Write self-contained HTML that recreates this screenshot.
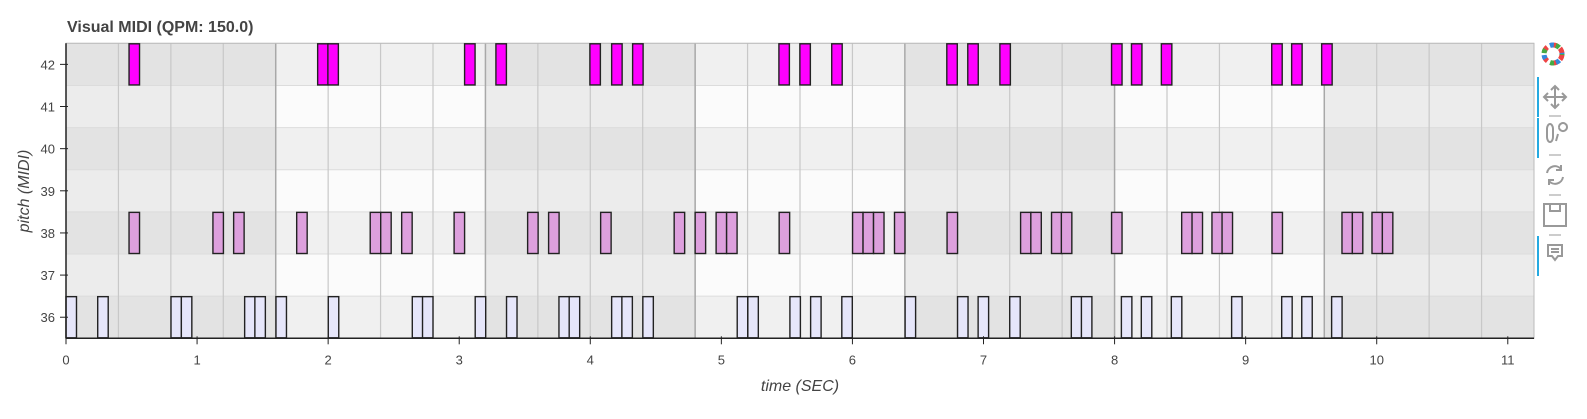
<!DOCTYPE html>
<html><head><meta charset="utf-8"><style>
body{margin:0;background:#fff;width:1587px;height:414px;overflow:hidden;font-family:"Liberation Sans",sans-serif}
</style></head><body>
<svg id="c" width="1587" height="414" xmlns="http://www.w3.org/2000/svg">
<text x="67" y="32" font-size="16" font-weight="bold" fill="#444">Visual MIDI (QPM: 150.0)</text>
<g id="bg"></g><g id="grid"></g><g id="notes"></g><g id="axes"></g>
<text x="800" y="391" font-size="16" font-style="italic" fill="#444" text-anchor="middle">time (SEC)</text>
<text transform="translate(29,191) rotate(-90)" font-size="16" font-style="italic" fill="#444" text-anchor="middle">pitch (MIDI)</text>
<g transform="translate(21,1)">
<g transform="translate(1532,53)">
<circle r="9" fill="none" stroke="#e44" stroke-width="5" stroke-dasharray="6 4"/>
<circle r="9" fill="none" stroke="#4a4" stroke-width="5" stroke-dasharray="4 12" stroke-dashoffset="3"/>
<circle r="9" fill="none" stroke="#38d" stroke-width="5" stroke-dasharray="4 12" stroke-dashoffset="9"/>
</g>
<rect x="1516" y="76" width="2" height="40" fill="#26aae1"/>
<rect x="1516" y="117" width="2" height="40" fill="#26aae1"/>
<rect x="1516" y="235" width="2" height="40" fill="#26aae1"/>
<g fill="none" stroke="#999" stroke-width="2">
<path d="M1534 85v22M1523 96h22M1530 89l4-4 4 4M1530 103l4 4 4-4M1527 92l-4 4 4 4M1541 92l4 4-4 4"/>
<line x1="1528" y1="115" x2="1540" y2="115" stroke-width="1"/>
<path d="M1526 128a3 5 0 0 1 6 0v8a3 5 0 0 1-6 0z M1538 126a4 4 0 1 1 0 .1M1537 133l-2 7"/>
<line x1="1528" y1="154" x2="1540" y2="154" stroke-width="1"/>
<path d="M1526 172a8 8 0 0 1 14-4M1542 176a8 8 0 0 1-14 4M1540 164v5h-5M1528 184v-5h5"/>
<line x1="1528" y1="194" x2="1540" y2="194" stroke-width="1"/>
<path d="M1523 203h22v22h-22zM1529 203v7h10v-7"/>
<line x1="1528" y1="234" x2="1540" y2="234" stroke-width="1"/>
<path d="M1527 244h14v11h-4l-3 4-3-4h-4zM1530 248h8M1530 251h8"/>
</g></g>
</svg>
<script>
const pitches=[36,38,42];
const starts36=[0.0,0.242,0.801,0.880,1.363,1.441,1.602,2.001,2.642,2.720,3.122,3.361,3.761,3.839,4.163,4.241,4.401,5.121,5.202,5.523,5.681,5.919,6.402,6.802,6.959,7.200,7.670,7.747,8.052,8.204,8.433,8.893,9.275,9.428,9.656];
const starts38=[0.481,1.121,1.279,1.760,2.321,2.401,2.561,2.961,3.522,3.682,4.079,4.640,4.800,4.960,5.040,5.441,6.001,6.081,6.161,6.321,6.722,7.283,7.361,7.519,7.594,7.977,8.512,8.591,8.743,8.820,9.201,9.735,9.814,9.964,10.043];
const starts42=[0.481,1.920,1.998,3.041,3.280,3.997,4.163,4.323,5.439,5.599,5.842,6.720,6.880,7.125,7.977,8.129,8.357,9.199,9.351,9.580];
const noteDur=0.08;
const xTicks=[0,1,2,3,4,5,6,7,8,9,10,11];
const yTicks=[36,37,38,39,40,41,42];
const secPerBar=1.6, beatsPerBar=4;
const X0=66,X1=1534,Y0=43.3,Y1=338.3,TMAX=11.2,PMIN=35.5,PMAX=42.5;
const sx=t=>X0+(t/TMAX)*(X1-X0);
const sy=p=>Y1-((p-PMIN)/(PMAX-PMIN))*(Y1-Y0);
const NS="http://www.w3.org/2000/svg";
function mk(tag,attrs,parent){const e=document.createElementNS(NS,tag);for(const k in attrs)e.setAttribute(k,attrs[k]);parent.appendChild(e);return e;}
const bg=document.getElementById('bg'),grid=document.getElementById('grid'),notesG=document.getElementById('notes'),axes=document.getElementById('axes');
const nBars=Math.ceil(TMAX/secPerBar-1e-9);
for(let b=0;b<nBars;b++){
  const t0=b*secPerBar,t1=Math.min(TMAX,(b+1)*secPerBar);
  for(const p of yTicks){
    const darkRow=(p%2===0), darkBar=(b%2===0);
    const col=darkBar?(darkRow?'#e3e3e3':'#ececec'):(darkRow?'#f0f0f0':'#fbfbfb');
    const r=mk('rect',{x:sx(t0),y:sy(p+0.5),width:sx(t1)-sx(t0),height:sy(p-0.5)-sy(p+0.5),fill:col},bg);
    
    
  }
}
for(const p of yTicks){mk('line',{x1:X0,x2:X1,y1:sy(p+0.5),y2:sy(p+0.5),stroke:'#dcdcdc','stroke-width':1},grid);}
for(let i=1;i*secPerBar/beatsPerBar<TMAX-1e-6;i++){
  const t=i*secPerBar/beatsPerBar, isBar=i%beatsPerBar===0;
  const l=mk('line',{x1:sx(t),x2:sx(t),y1:Y0,y2:Y1,stroke:isBar?'#a8a8a8':'#c8c8c8','stroke-width':isBar?1.5:1.2},grid);
  
  
}
mk('rect',{x:X0,y:Y0,width:X1-X0,height:Y1-Y0,fill:'none',stroke:'#bbb','stroke-width':1},grid);
const series={36:[starts36,'#e6e6fa'],38:[starts38,'#dda0dd'],42:[starts42,'#ff00ff']};
for(const p of pitches){
  const [arr,col]=series[p];
  for(const t of arr){
    const r=mk('rect',{x:sx(t),y:sy(p+0.5)+0.5,width:sx(t+noteDur)-sx(t),height:sy(p-0.5)-sy(p+0.5)-1,fill:col,stroke:'#222','stroke-width':1.4},notesG);
    
    
  }
}
mk('line',{x1:X0,x2:X1,y1:Y1,y2:Y1,stroke:'#222','stroke-width':1.5},axes);
mk('line',{x1:X0,x2:X0,y1:Y0,y2:Y1,stroke:'#222','stroke-width':1.5},axes);
for(const t of xTicks){
  mk('line',{x1:sx(t),x2:sx(t),y1:Y1-2,y2:Y1+6,stroke:'#222'},axes);
  const tx=mk('text',{x:sx(t),y:Y1+26,'font-size':13,fill:'#444','text-anchor':'middle'},axes);
  tx.textContent=t;
  
  
}
for(const p of yTicks){
  mk('line',{x1:X0-6,x2:X0+2,y1:sy(p),y2:sy(p),stroke:'#222'},axes);
  const tx=mk('text',{x:55,y:sy(p)+5,'font-size':13,fill:'#444','text-anchor':'end'},axes);
  tx.textContent=p;
  
  
}
</script>
</body></html>
